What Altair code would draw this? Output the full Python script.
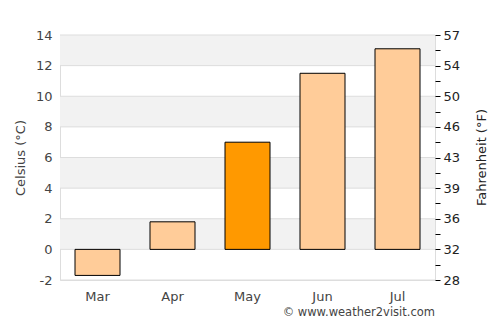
import altair as alt
import pandas as pd

months = ["Mar", "Apr", "May", "Jun", "Jul"]
celsius = [-1.7, 1.8, 7.0, 11.5, 13.1]
bar_colors = ["#ffcc99", "#ffcc99", "#ff9900", "#ffcc99", "#ffcc99"]
band_lo = [0, 4, 8, 12]
band_hi = [2, 6, 10, 14]
grid_vals = [-2, 0, 2, 4, 6, 8, 10, 12, 14]
right_ticks = list(range(-2, 15))
copyright = ["© www.weather2visit.com"]

FONT = "DejaVu Sans"
ydom = [-2, 14]


def ys():
    return alt.Scale(domain=ydom, nice=False, zero=False)


bars_df = pd.DataFrame({"month": months, "c": celsius, "color": bar_colors})
bands_df = pd.DataFrame({"lo": band_lo, "hi": band_hi})
grid_df = pd.DataFrame({"v": grid_vals})
tick_df = pd.DataFrame({"v": right_ticks})
text_df = pd.DataFrame({"t": copyright})

bands = alt.Chart(bands_df).mark_rect(color="#f2f2f2").encode(
    y=alt.Y("lo:Q", scale=ys(), axis=alt.Axis(
        title="Celsius (°C)", values=grid_vals, grid=False, ticks=False,
        labelExpr="'' + datum.value",
        domain=False, labelPadding=8, labelColor="#444444", titleColor="#444444",
        labelFont=FONT, titleFont=FONT, labelFontSize=13, titleFontSize=13,
        titleFontWeight="normal", labelOverlap=False, titlePadding=8)),
    y2="hi:Q",
    x=alt.value(0),
    x2=alt.value(375),
)

grid = alt.Chart(grid_df).mark_rule(color="#dddddd", strokeWidth=1).encode(
    y=alt.Y("v:Q", scale=ys(), axis=None)
)

bars = alt.Chart(bars_df).mark_bar(stroke="black", strokeWidth=1).encode(
    x=alt.X("month:N", sort=months,
            scale=alt.Scale(paddingInner=0.4, paddingOuter=0.2),
            axis=alt.Axis(title=None, labelAngle=0, ticks=False, domain=False,
                          labelPadding=10, labelColor="#444444", labelFont=FONT,
                          labelFontSize=13)),
    y=alt.Y("c:Q", scale=ys(), axis=None),
    y2=alt.datum(0),
    color=alt.Color("color:N", scale=None),
)

right = alt.Chart(tick_df).mark_point(opacity=0).encode(
    y=alt.Y("v:Q", scale=ys(), axis=alt.Axis(
        orient="right", title="Fahrenheit (°F)", values=right_ticks,
        labelExpr="datum.value % 2 == 0 ? format(datum.value * 9 / 5 + 32, '.0f') : ''",
        grid=False, domain=False, tickColor="#000000", tickSize=5,
        labelPadding=3, labelColor="#222222", titleColor="#222222",
        labelFont=FONT, titleFont=FONT, labelFontSize=13, titleFontSize=13,
        titleFontWeight="normal", titleAngle=270, labelOverlap=False,
        titleX=46, titleY=122, titleAlign="center", titleBaseline="middle")),
)

txt = alt.Chart(text_df).mark_text(
    align="right", baseline="middle", font=FONT, fontSize=11.5, color="#444444"
).encode(
    x=alt.value(375), y=alt.value(278), text="t:N"
)

chart = alt.layer(bands, grid, bars, right, txt).resolve_scale(
    y="independent"
).properties(
    width=375, height=245,
    padding={"left": 60, "top": 35, "right": 65, "bottom": 45},
    autosize=alt.AutoSizeParams(type="none"),
).configure_view(stroke="#dddddd")

chart.save("out.html", embed_options={"renderer": "svg", "actions": False})
